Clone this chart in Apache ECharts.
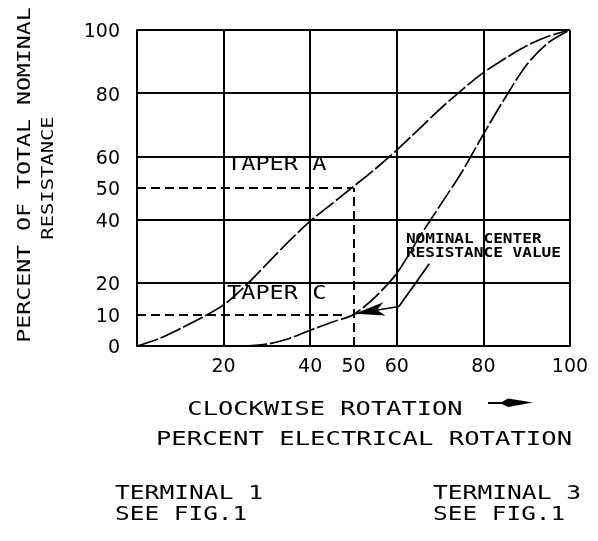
<!DOCTYPE html>
<html>
<head>
<meta charset="utf-8">
<script src="https://cdn.jsdelivr.net/npm/echarts@6/dist/echarts.min.js"></script>
<style>
  html, body { margin: 0; padding: 0; background: #fff; }
  #chart { width: 598px; height: 541px; }
</style>
</head>
<body>
<div id="chart"></div>
<script>
  // values
  const rotationA = [0, 5, 10, 15, 20, 25, 30, 35, 40, 45, 50, 55, 60, 65, 70, 75, 80, 85, 90, 95, 100]
  const taperA = [0, 2.3, 5.5, 9, 13, 19, 26, 33, 39.5, 45, 50.5, 56, 62, 68.5, 75, 81, 86.5, 91, 95, 98, 100]
  const rotationC = [25, 30, 35, 40, 45, 50, 55, 60, 65, 70, 75, 80, 85, 90, 95, 100]
  const taperC = [0, 0.6, 2.3, 5, 7.5, 10, 15.5, 23, 34, 44.5, 55, 67, 78.5, 89, 96, 100]
  const xTickLabels = [20, 40, 50, 60, 80, 100]
  const yTickLabels = [0, 10, 20, 40, 50, 60, 80, 100]
  const centerRotation = 50
  const centerA = 50
  const centerC = 10
  // leader of the "nominal center" note: from below the note to the arrow tail
  const leader = [[67.5, 26], [60.5, 12.5]]

  const ink = '#000'
  const mono = 'DejaVu Sans Mono'

  const chart = echarts.init(document.getElementById('chart'))

  const dashed = { color: ink, width: 2, type: [9, 5] }

  // stretched plotter-like text
  function txt(text, x, y, size, sx, opts) {
    opts = opts || {}
    return {
      type: 'text',
      x, y,
      scaleX: sx,
      rotation: opts.rotation || 0,
      silent: true,
      style: {
        text,
        fontSize: size,
        fontFamily: mono,
        fontWeight: opts.bold ? 'bold' : 'normal',
        fill: ink,
        textAlign: opts.align || 'left',
        textVerticalAlign: 'middle'
      }
    }
  }

  chart.setOption({
    animation: false,
    backgroundColor: '#fff',
    grid: { left: 137, right: 28, top: 30, bottom: 195, outerBoundsMode: 'none' },
    xAxis: {
      type: 'value',
      min: 0,
      max: 100,
      interval: 20,
      axisLine: { show: true, lineStyle: { color: ink, width: 2 } },
      axisTick: { show: false },
      splitLine: { show: true, lineStyle: { color: ink, width: 2 } },
      axisLabel: {
        customValues: xTickLabels,
        margin: 12,
        color: ink,
        fontSize: 19,
        fontFamily: 'DejaVu Sans'
      }
    },
    yAxis: {
      type: 'value',
      min: 0,
      max: 100,
      interval: 20,
      axisLine: { show: true, lineStyle: { color: ink, width: 2 } },
      axisTick: { show: false },
      splitLine: { show: true, lineStyle: { color: ink, width: 2 } },
      axisLabel: {
        customValues: yTickLabels,
        margin: 17,
        color: ink,
        fontSize: 19,
        fontFamily: 'DejaVu Sans',
        verticalAlign: 'top',
        padding: [-7, 0, 0, 0]
      }
    },
    series: [
      {
        name: 'TAPER A',
        type: 'line',
        smooth: 0.3,
        symbol: 'none',
        lineStyle: { color: ink, width: 1.7, type: [22, 3] },
        data: rotationA.map((x, i) => [x, taperA[i]]),
        markLine: {
          silent: true,
          symbol: 'none',
          label: { show: false },
          lineStyle: dashed,
          data: [
            [{ coord: [0, centerA] }, { coord: [centerRotation, centerA] }],
            [{ coord: [centerRotation, 0] }, { coord: [centerRotation, centerA] }],
            [{ coord: [0, centerC] }, { coord: [centerRotation - 2, centerC] }]
          ]
        }
      },
      {
        name: 'TAPER C',
        type: 'line',
        smooth: 0.3,
        symbol: 'none',
        lineStyle: { color: ink, width: 1.7, type: [22, 3] },
        data: rotationC.map((x, i) => [x, taperC[i]]),
        markLine: {
          silent: true,
          label: { show: false },
          lineStyle: { color: ink, width: 1.7, type: 'solid' },
          data: [
            [{ coord: leader[0], symbol: 'none' }, { coord: leader[1], symbol: 'none' }],
            [{ coord: leader[1], symbol: 'none' },
             { coord: [centerRotation + 0.3, centerC + 0.2], symbol: 'arrow', symbolSize: [10, 30] }]
          ]
        }
      }
    ]
  })

  // in-plot notes placed in data units
  const at = p => chart.convertToPixel({ gridIndex: 0 }, p)
  const notes = [
    { text: 'TAPER A', pos: [20.8, 57.3], size: 19, sx: 1.24 },
    { text: 'TAPER C', pos: [20.8, 16.5], size: 19, sx: 1.24 },
    { text: 'NOMINAL CENTER', pos: [62.1, 33.9], size: 14, sx: 1.15, bold: true },
    { text: 'RESISTANCE VALUE', pos: [62.1, 29.3], size: 14, sx: 1.15, bold: true }
  ]
  const noteEls = notes.map(n => {
    const p = at(n.pos)
    return txt(n.text, p[0], p[1], n.size, n.sx, { bold: n.bold })
  })

  chart.setOption({
    graphic: [
      txt('PERCENT OF TOTAL NOMINAL', 25, 175, 18, 1.29, { rotation: Math.PI / 2, align: 'center' }),
      txt('RESISTANCE', 49, 178, 16, 1.28, { rotation: Math.PI / 2, align: 'center' }),
      txt('CLOCKWISE ROTATION', 325, 410, 20, 1.27, { align: 'center' }),
      {
        type: 'polyline',
        silent: true,
        shape: { points: [[488, 403], [506, 403]] },
        style: { stroke: ink, lineWidth: 2 }
      },
      {
        type: 'polygon',
        silent: true,
        shape: { points: [[500, 403], [508, 398.5], [533, 402.5], [508, 407]] },
        style: { fill: ink }
      },
      txt('PERCENT ELECTRICAL ROTATION', 364, 440, 20, 1.28, { align: 'center' }),
      txt('TERMINAL 1', 115, 494, 20, 1.23),
      txt('SEE FIG.1', 115, 515, 20, 1.22),
      txt('TERMINAL 3', 433, 494, 20, 1.23),
      txt('SEE FIG.1', 433, 515, 20, 1.22)
    ].concat(noteEls)
  })
</script>
</body>
</html>
